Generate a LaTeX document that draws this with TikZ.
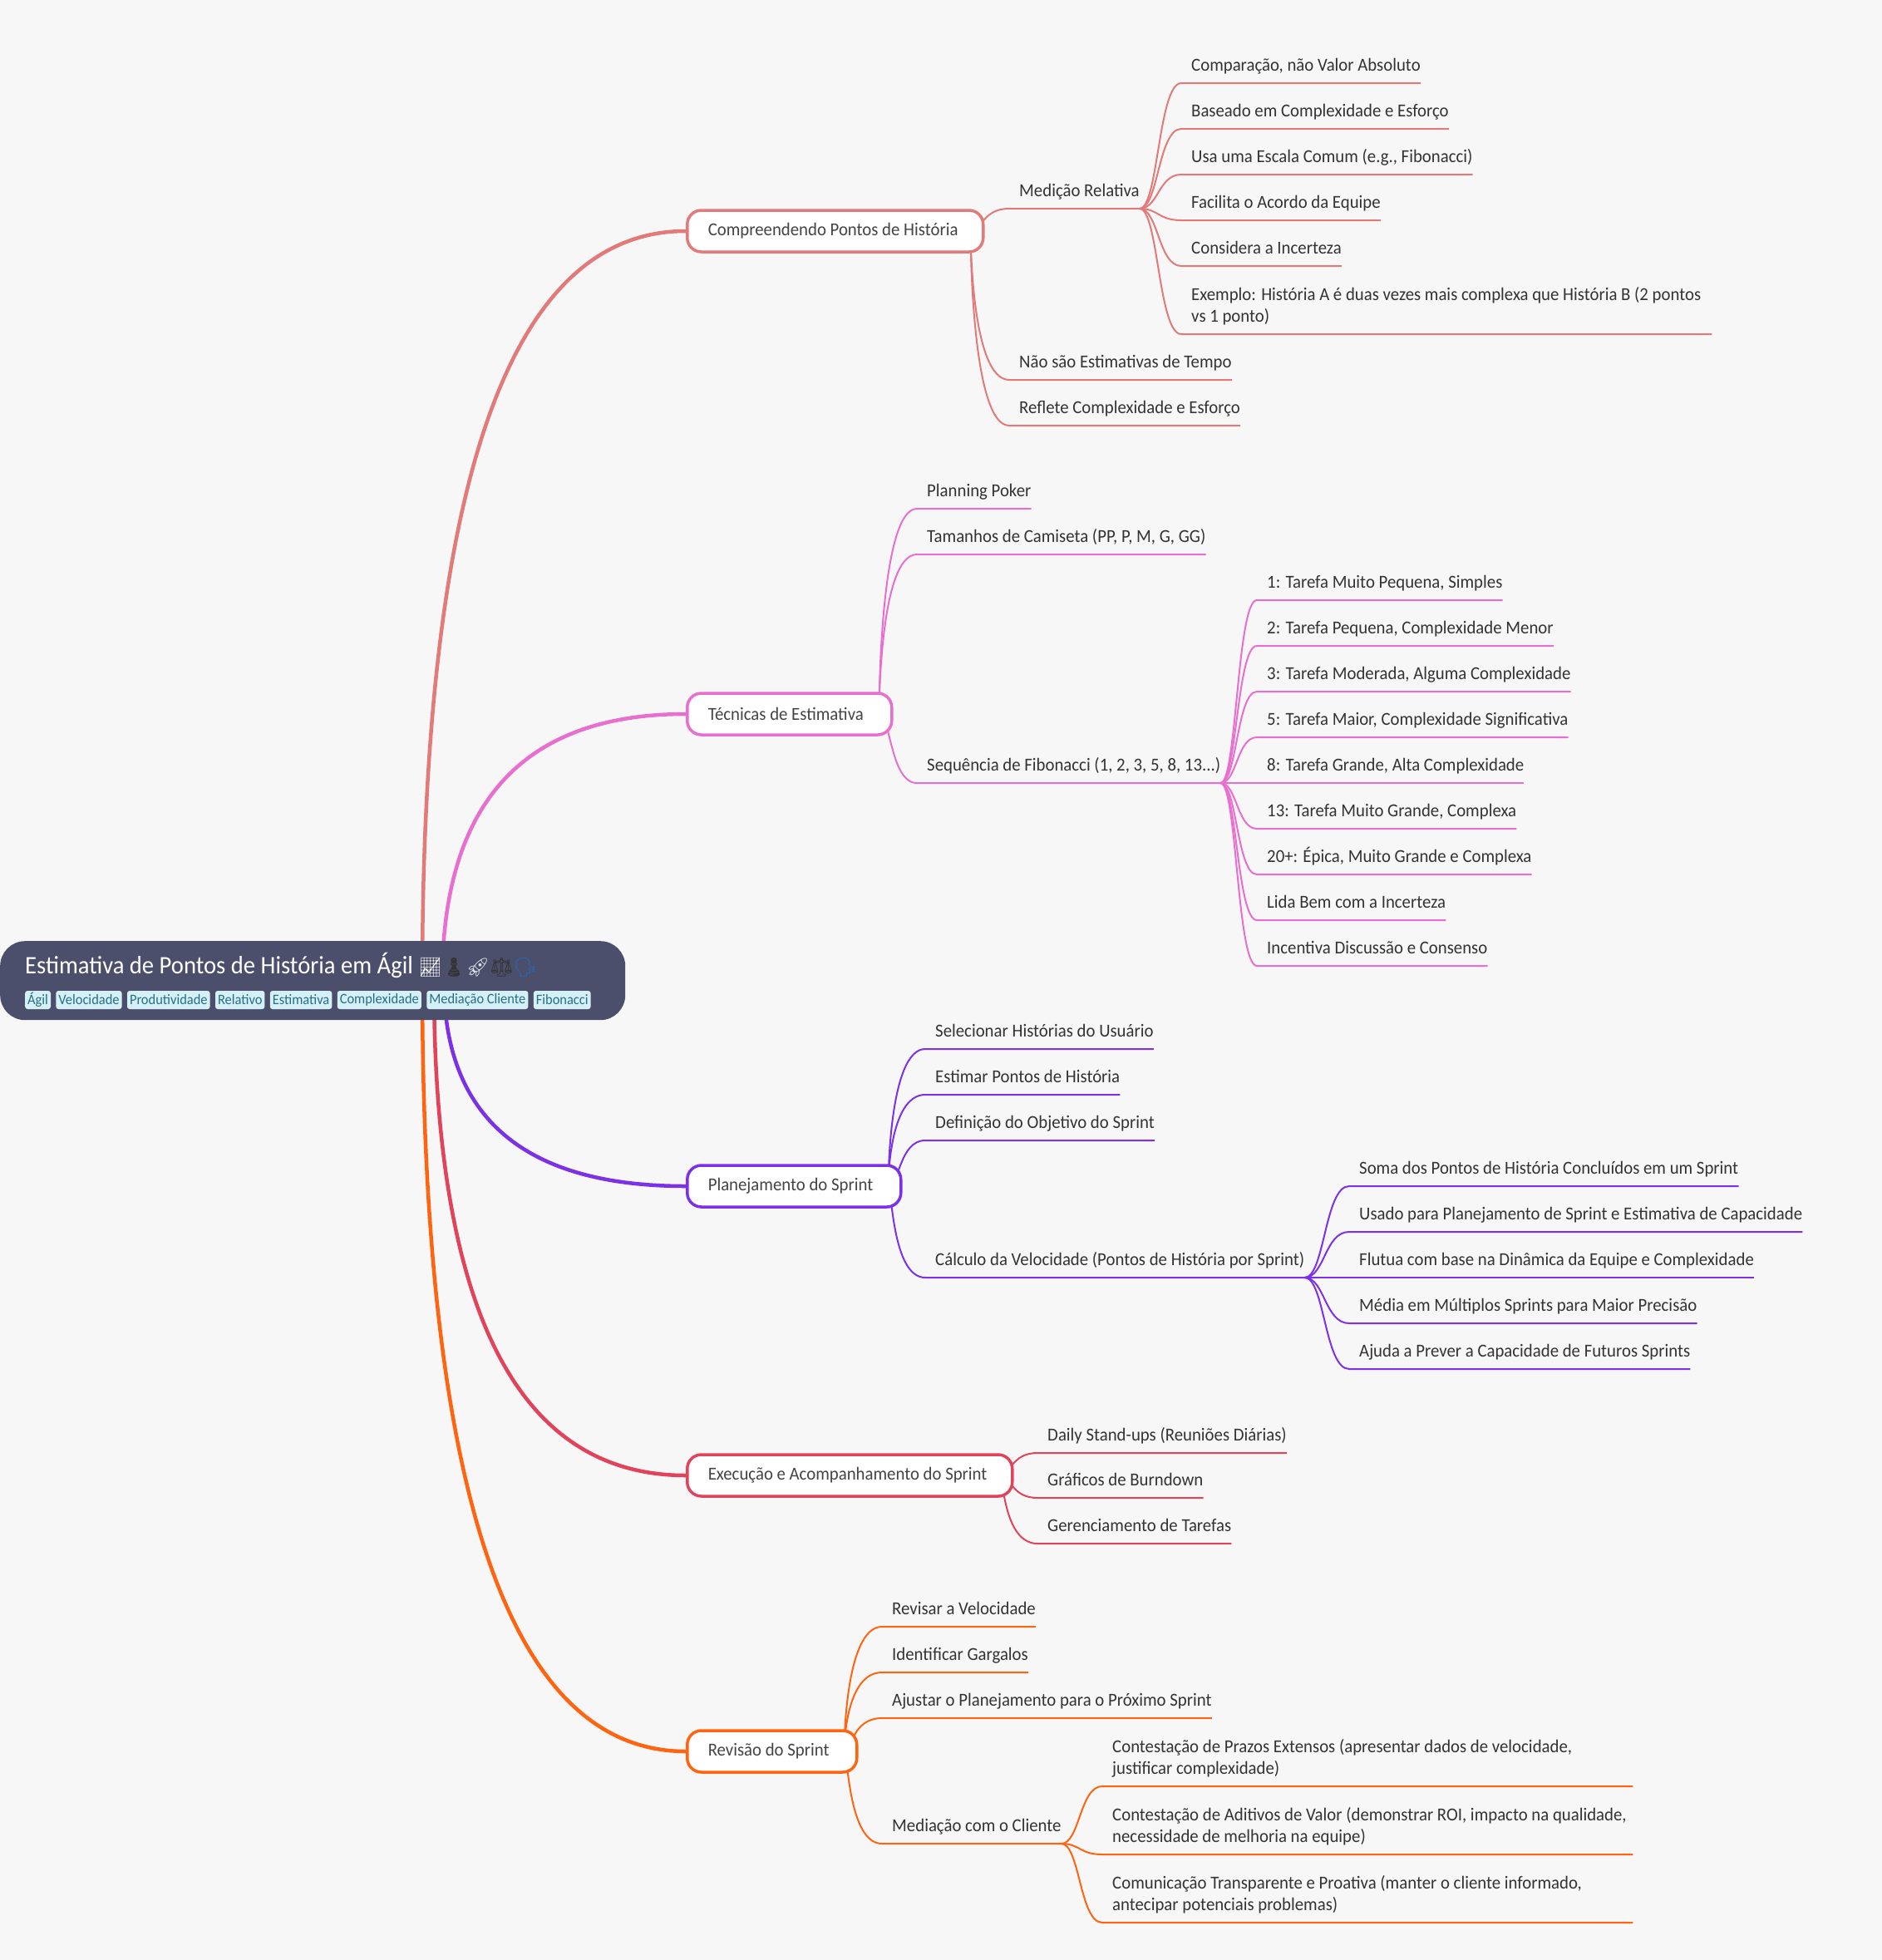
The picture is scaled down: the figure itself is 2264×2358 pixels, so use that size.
\documentclass[tikz,border=0pt]{standalone}
\usepackage{fontspec}
\setmainfont{Carlito}[FakeStretch=0.945]
\newfontfamily\emojifont{Noto Emoji}
\usetikzlibrary{calc,positioning}

\definecolor{pagebg}{HTML}{F7F7F7}
\definecolor{rootbg}{HTML}{4C4F6B}
\definecolor{tagbg}{HTML}{D6F0F8}
\definecolor{tagfg}{HTML}{276F86}
\definecolor{inkdark}{HTML}{333333}
\definecolor{inktopic}{HTML}{444444}
\definecolor{clra}{HTML}{E27A7A}
\definecolor{clrb}{HTML}{E86FD0}
\definecolor{clrc}{HTML}{7D31E6}
\definecolor{clrd}{HTML}{E0435A}
\definecolor{clre}{HTML}{FF6511}
\definecolor{emojiblue}{HTML}{1B6FC8}
\definecolor{emojilight}{HTML}{DDE1E8}

\pgfdeclarelayer{pagelayer}
\pgfdeclarelayer{linklayer}
\pgfsetlayers{pagelayer,linklayer,main}

\tikzset{
	rootbox/.style={fill=rootbg, rounded corners=30pt, minimum width=752pt, minimum height=95pt, anchor=north west, inner sep=0pt},
	roottitle/.style={anchor=base west, inner sep=0pt, text=white, font=\fontsize{30.3}{34}\selectfont},
	tagbox/.style={fill=tagbg, text=tagfg, rounded corners=3pt, minimum height=22pt, inner xsep=3pt, inner ysep=0pt, font=\fontsize{17.4}{20}\selectfont},
	topic/.style={draw=#1, fill=white, line width=3.5pt, rounded corners=17pt, anchor=west, minimum height=50pt, inner xsep=25pt, inner ysep=0pt, align=flush left, text=inktopic, font=\fontsize{22}{26}\selectfont},
	leaf/.style={anchor=south west, inner xsep=0pt, inner ysep=9pt, text depth=5pt, align=flush left, text=inkdark, font=\fontsize{22}{26}\selectfont},
	longleaf/.style={leaf, text width=626pt, text depth=31pt},
	mainlink/.style={draw=#1, line width=4.5pt},
	sublink/.style={draw=#1, line width=2pt}
}

\newcommand{\mainbranch}[3]{
	\draw[mainlink=#1] (#2) .. controls ($(#2)!.667!(#2 |- #3)$) and ($(#3)!.667!(#2 |- #3)$) .. (#3);
}
\newcommand{\sublinkto}[4][.45]{
	\coordinate (tail) at ([xshift=-12pt]#4.south west);
	\draw[sublink=#2] (#3) .. controls ($(#3)!#1!(#3 -| tail)$) and ($(tail)!{1-#1}!(tail -| #3)$) .. (tail) -- (#4.south east);
}

\begin{document}
\begin{tikzpicture}[x=1pt, y=-1pt]
\useasboundingbox (0,0) rectangle (2264,2358);
\begin{pgfonlayer}{pagelayer}
	\fill[pagebg] (0,0) rectangle (2264,2358);
\end{pgfonlayer}

% root
\node[rootbox] (root) at (0,1132) {};
\node[roottitle] (title) at (30,1171) {Estimativa de Pontos de História em Ágil {\emojifont\fontsize{22.5}{26}\selectfont\textcolor{white}{📈}\textcolor{inkdark}{♟}\textcolor{emojilight}{🚀}\textcolor{inkdark}{⚖}\textcolor{emojiblue}{🗣}}};
\node[tagbox, anchor=west] (taga) at (30,1203) {Ágil};
\node[tagbox, right=6pt of taga] (tagb) {Velocidade};
\node[tagbox, right=6pt of tagb] (tagc) {Produtividade};
\node[tagbox, right=6pt of tagc] (tagd) {Relativo};
\node[tagbox, right=6pt of tagd] (tage) {Estimativa};
\node[tagbox, right=6pt of tage] (tagf) {Complexidade};
\node[tagbox, right=6pt of tagf] (tagg) {Mediação Cliente};
\node[tagbox, right=6pt of tagg] (tagh) {Fibonacci};

% topics
\node[topic=clra, text width=306pt] (comp) at (825,278) {Compreendendo Pontos de História};
\node[topic=clrb, text width=196pt] (tecn) at (825,859) {Técnicas de Estimativa};
\node[topic=clrc, text width=207pt] (plan) at (825,1427) {Planejamento do Sprint};
\node[topic=clrd, text width=341pt] (exec) at (825,1775) {Execução e Acompanhamento do Sprint};
\node[topic=clre, text width=154pt] (revi) at (825,2107) {Revisão do Sprint};

\coordinate (rootc-a) at (508,1180);
\coordinate (rootc-b) at (532,1180);
\coordinate (rootc-c) at (534,1180);
\coordinate (rootc-d) at (522,1180);
\coordinate (rootc-e) at (508,1180);
\coordinate (comp-o) at ([xshift=-17pt]comp.east);
\coordinate (tecn-o) at ([xshift=-17pt]tecn.east);
\coordinate (plan-o) at ([xshift=-17pt]plan.east);
\coordinate (exec-o) at ([xshift=-17pt]exec.east);
\coordinate (revi-o) at ([xshift=-17pt]revi.east);

% first branch
\node[leaf] (med) at (1226,251) {Medição Relativa};
\node[leaf] (nao) at (1226,457) {Não são Estimativas de Tempo};
\node[leaf] (ref) at (1226,512) {Reflete Complexidade e Esforço};
\node[leaf] (meda) at (1433,100) {Comparação, não Valor Absoluto};
\node[leaf] (medb) at (1433,155) {Baseado em Complexidade e Esforço};
\node[leaf] (medc) at (1433,210) {Usa uma Escala Comum (e.g., Fibonacci)};
\node[leaf] (medd) at (1433,265) {Facilita o Acordo da Equipe};
\node[leaf] (mede) at (1433,320) {Considera a Incerteza};
\node[longleaf] (medf) at (1433,402) {Exemplo: História A é duas vezes mais complexa que História B (2 pontos\\vs 1 ponto)};

% second branch
\node[leaf] (pok) at (1115,612) {Planning Poker};
\node[leaf] (cam) at (1115,667) {Tamanhos de Camiseta (PP, P, M, G, GG)};
\node[leaf] (seq) at (1115,942) {Sequência de Fibonacci (1, 2, 3, 5, 8, 13...)};
\node[leaf] (seqa) at (1524,722) {1: Tarefa Muito Pequena, Simples};
\node[leaf] (seqb) at (1524,777) {2: Tarefa Pequena, Complexidade Menor};
\node[leaf] (seqc) at (1524,832) {3: Tarefa Moderada, Alguma Complexidade};
\node[leaf] (seqd) at (1524,887) {5: Tarefa Maior, Complexidade Significativa};
\node[leaf] (seqe) at (1524,942) {8: Tarefa Grande, Alta Complexidade};
\node[leaf] (seqf) at (1524,997) {13: Tarefa Muito Grande, Complexa};
\node[leaf] (seqg) at (1524,1052) {20+: Épica, Muito Grande e Complexa};
\node[leaf] (seqh) at (1524,1107) {Lida Bem com a Incerteza};
\node[leaf] (seqi) at (1524,1162) {Incentiva Discussão e Consenso};

% third branch
\node[leaf] (sel) at (1125,1262) {Selecionar Histórias do Usuário};
\node[leaf] (est) at (1125,1317) {Estimar Pontos de História};
\node[leaf] (obj) at (1125,1372) {Definição do Objetivo do Sprint};
\node[leaf] (vel) at (1125,1537) {Cálculo da Velocidade (Pontos de História por Sprint)};
\node[leaf] (vela) at (1635,1427) {Soma dos Pontos de História Concluídos em um Sprint};
\node[leaf] (velb) at (1635,1482) {Usado para Planejamento de Sprint e Estimativa de Capacidade};
\node[leaf] (velc) at (1635,1537) {Flutua com base na Dinâmica da Equipe e Complexidade};
\node[leaf] (veld) at (1635,1592) {Média em Múltiplos Sprints para Maior Precisão};
\node[leaf] (vele) at (1635,1647) {Ajuda a Prever a Capacidade de Futuros Sprints};

% fourth branch
\node[leaf] (dai) at (1260,1748) {Daily Stand-ups (Reuniões Diárias)};
\node[leaf] (gra) at (1260,1802) {Gráficos de Burndown};
\node[leaf] (ger) at (1260,1857) {Gerenciamento de Tarefas};

% fifth branch
\node[leaf] (rev) at (1073,1957) {Revisar a Velocidade};
\node[leaf] (gar) at (1073,2012) {Identificar Gargalos};
\node[leaf] (aju) at (1073,2067) {Ajustar o Planejamento para o Próximo Sprint};
\node[leaf] (cli) at (1073,2218) {Mediação com o Cliente};
\node[longleaf] (clia) at (1338,2149) {Contestação de Prazos Extensos (apresentar dados de velocidade,\\justificar complexidade)};
\node[longleaf] (clib) at (1338,2231) {Contestação de Aditivos de Valor (demonstrar ROI, impacto na qualidade,\\necessidade de melhoria na equipe)};
\node[longleaf] (clic) at (1338,2313) {Comunicação Transparente e Proativa (manter o cliente informado,\\antecipar potenciais problemas)};

\begin{pgfonlayer}{linklayer}
	\mainbranch{clra}{rootc-a}{comp.west}
	\mainbranch{clrb}{rootc-b}{tecn.west}
	\mainbranch{clrc}{rootc-c}{plan.west}
	\mainbranch{clrd}{rootc-d}{exec.west}
	\mainbranch{clre}{rootc-e}{revi.west}

	\sublinkto[.3]{clra}{comp-o}{med}
	\foreach \leafname in {nao,ref} {\sublinkto[0]{clra}{comp-o}{\leafname}}
	\foreach \leafname in {meda,medb,medc,medd,mede,medf} {\sublinkto{clra}{med.south east}{\leafname}}

	\foreach \leafname in {pok,cam} {\sublinkto[0]{clrb}{tecn-o}{\leafname}}
	\sublinkto[.3]{clrb}{tecn-o}{seq}
	\foreach \leafname in {seqa,seqb,seqc,seqd,seqe,seqf,seqg,seqh,seqi} {\sublinkto{clrb}{seq.south east}{\leafname}}

	\foreach \leafname in {sel,est} {\sublinkto[0]{clrc}{plan-o}{\leafname}}
	\sublinkto[.3]{clrc}{plan-o}{obj}
	\sublinkto[.1]{clrc}{plan-o}{vel}
	\foreach \leafname in {vela,velb,velc,veld,vele} {\sublinkto{clrc}{vel.south east}{\leafname}}

	\sublinkto[.3]{clrd}{exec-o}{dai}
	\sublinkto[.3]{clrd}{exec-o}{gra}
	\sublinkto[.1]{clrd}{exec-o}{ger}

	\foreach \leafname in {rev,gar} {\sublinkto[0]{clre}{revi-o}{\leafname}}
	\sublinkto[.2]{clre}{revi-o}{aju}
	\sublinkto[.1]{clre}{revi-o}{cli}
	\foreach \leafname in {clia,clib,clic} {\sublinkto{clre}{cli.south east}{\leafname}}
\end{pgfonlayer}
\end{tikzpicture}
\end{document}
